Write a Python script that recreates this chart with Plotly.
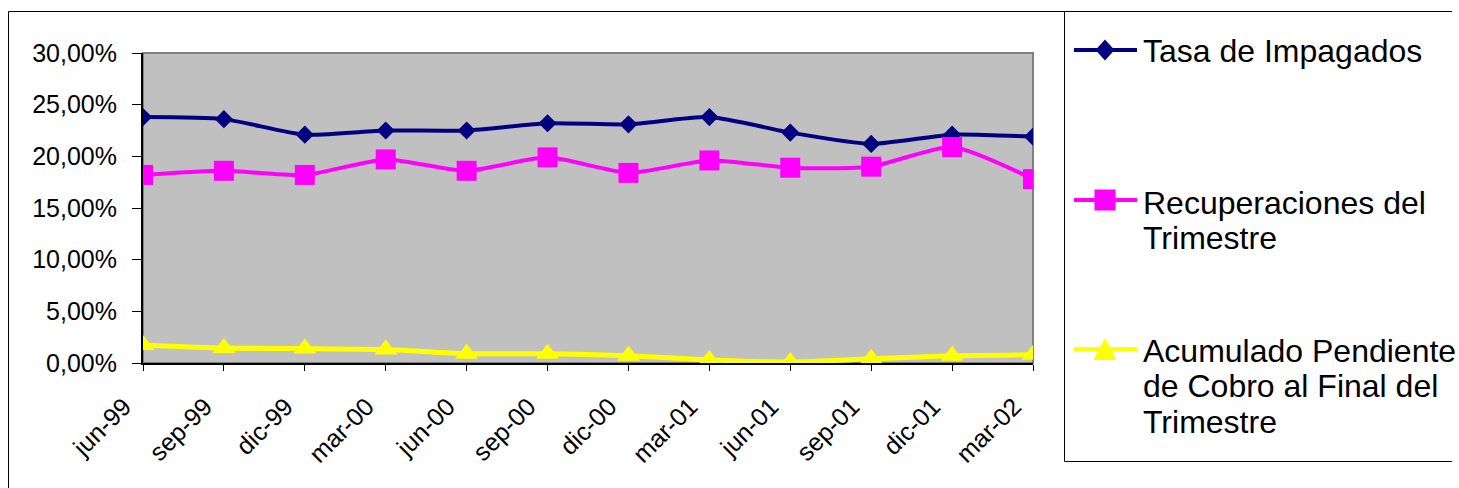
import plotly.graph_objects as go

# ---- data ----
periods = ["jun-99", "sep-99", "dic-99", "mar-00", "jun-00", "sep-00",
           "dic-00", "mar-01", "jun-01", "sep-01", "dic-01", "mar-02"]
tasa_impagados = [23.8, 23.6, 22.1, 22.5, 22.5, 23.2, 23.1, 23.8, 22.3, 21.2, 22.1, 21.9]
recuperaciones = [18.2, 18.6, 18.2, 19.7, 18.6, 19.9, 18.4, 19.6, 18.9, 19.0, 20.9, 17.8]
acumulado = [1.75, 1.45, 1.4, 1.3, 0.9, 0.9, 0.7, 0.3, 0.1, 0.4, 0.7, 0.8]
series_names = ["Tasa de Impagados", "Recuperaciones del Trimestre",
                "Acumulado Pendiente de Cobro al Final del Trimestre"]
legend_lines = [["Tasa de Impagados"],
                ["Recuperaciones del", "Trimestre"],
                ["Acumulado Pendiente", "de Cobro al Final del", "Trimestre"]]
y_ticks = [0, 5, 10, 15, 20, 25, 30]
y_tick_text = ["0,00%", "5,00%", "10,00%", "15,00%", "20,00%", "25,00%", "30,00%"]

W, H = 1459, 488
PL, PR, PT, PB = 143, 1033, 53, 363  # plot area in pixels
FONT = "Arial, Liberation Sans, sans-serif"

def xp(px):
    return (px - PL) / (PR - PL)

def yp(py):
    return (PB - py) / (PB - PT)

NAVY, MAG, YEL = "#000080", "#FF00FF", "#FFFF00"

fig = go.Figure()
fig.add_trace(go.Scatter(x=periods, y=tasa_impagados, name=series_names[0], mode="lines+markers",
                         line=dict(color=NAVY, width=4, shape="spline", smoothing=0.6),
                         marker=dict(symbol="diamond", size=14, color=NAVY)))
fig.add_trace(go.Scatter(x=periods, y=recuperaciones, name=series_names[1], mode="lines+markers",
                         line=dict(color=MAG, width=4, shape="spline", smoothing=0.6),
                         marker=dict(symbol="square", size=20, color=MAG)))
fig.add_trace(go.Scatter(x=periods, y=acumulado, name=series_names[2], mode="lines+markers",
                         line=dict(color=YEL, width=5, shape="spline", smoothing=0.6),
                         marker=dict(symbol="triangle-up", size=20, color=YEL)))

shapes = []
# plot area gray frame (top/right)
shapes.append(dict(type="rect", xref="x domain", yref="y domain", x0=0, x1=1, y0=0, y1=1,
                   line=dict(color="#808080", width=2), layer="below"))
# outer chart border (left and top edges visible only)
shapes.append(dict(type="line", xref="paper", yref="paper", x0=xp(8.5), x1=xp(8.5),
                   y0=yp(488), y1=yp(11.5), line=dict(color="#000000", width=1)))
shapes.append(dict(type="line", xref="paper", yref="paper", x0=xp(8.5), x1=xp(1452),
                   y0=yp(11.5), y1=yp(11.5), line=dict(color="#000000", width=1)))
# legend box (left and bottom edges; top coincides with outer border)
shapes.append(dict(type="line", xref="paper", yref="paper", x0=xp(1064.5), x1=xp(1064.5),
                   y0=yp(461.5), y1=yp(11.5), line=dict(color="#000000", width=1)))
shapes.append(dict(type="line", xref="paper", yref="paper", x0=xp(1064.5), x1=xp(1452),
                   y0=yp(461.5), y1=yp(461.5), line=dict(color="#000000", width=1)))

# legend symbols
sym_y = [50, 200, 349]
colors = [NAVY, MAG, YEL]
for yy, c in zip(sym_y, colors):
    shapes.append(dict(type="line", xref="paper", yref="paper", x0=xp(1074), x1=xp(1137),
                       y0=yp(yy), y1=yp(yy), line=dict(color=c, width=4)))
cx = 1105
d = [(cx, 50 - 10.5), (cx + 9.5, 50), (cx, 50 + 10.5), (cx - 9.5, 50)]
s = [(cx - 10.5, 200 - 10.5), (cx + 10.5, 200 - 10.5), (cx + 10.5, 200 + 10.5), (cx - 10.5, 200 + 10.5)]
t = [(cx, 338), (cx + 11.5, 360), (cx - 11.5, 360)]
for pts, c in zip([d, s, t], colors):
    path = "M " + " L ".join(f"{xp(a):.5f},{yp(b):.5f}" for a, b in pts) + " Z"
    shapes.append(dict(type="path", xref="paper", yref="paper", path=path,
                       fillcolor=c, line=dict(color=c, width=0)))

annotations = []
line_centers = [[50.5], [202.5, 237.5], [351, 386.5, 422]]
for lines, centers in zip(legend_lines, line_centers):
    for txt, cy in zip(lines, centers):
        annotations.append(dict(text=txt, xref="paper", yref="paper", x=xp(1141), y=yp(cy),
                                xanchor="left", yanchor="middle", showarrow=False,
                                font=dict(family=FONT, size=32, color="#000000")))

fig.update_layout(
    width=W, height=H,
    margin=dict(l=PL, r=W - PR, t=PT, b=H - PB, pad=0),
    paper_bgcolor="#FFFFFF", plot_bgcolor="#C0C0C0",
    showlegend=False,
    font=dict(family=FONT, size=25, color="#000000"),
    shapes=shapes, annotations=annotations,
    xaxis=dict(type="category", range=[0, len(periods) - 1], showgrid=False, zeroline=False,
               showline=True, linecolor="#000000", linewidth=2, ticks="outside", ticklen=6,
               tickcolor="#000000", tickwidth=1, tickangle=-45, layer="below traces",
               ticklabelstandoff=11, ticklabelshift=-19,
               tickfont=dict(family=FONT, size=25, color="#000000")),
    yaxis=dict(range=[0, 30], tickvals=y_ticks, ticktext=y_tick_text,
               showgrid=False, zeroline=False, showline=True, linecolor="#000000", linewidth=2,
               ticks="outside", ticklen=9, tickcolor="#000000", tickwidth=1,
               ticklabelstandoff=10, layer="below traces",
               tickfont=dict(family=FONT, size=25, color="#000000")),
    yaxis2=dict(range=[0, 30], tickvals=y_ticks, overlaying="y", side="left", anchor="x",
                showgrid=False, zeroline=False, showline=False, ticks="inside", ticklen=9,
                tickcolor="#000000", tickwidth=1, showticklabels=False, layer="below traces"),
)

fig.write_html("out.html", config={"displayModeBar": False},
               post_script="document.body.style.margin='0';document.body.style.overflow='hidden';")
